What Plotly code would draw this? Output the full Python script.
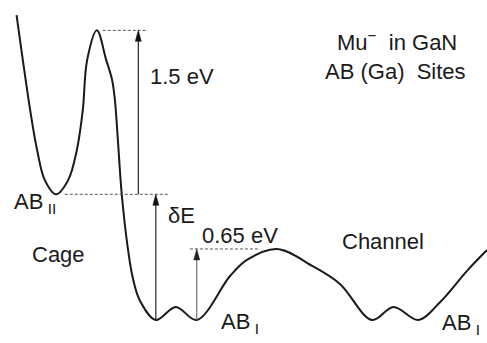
import plotly.graph_objects as go

# Configuration coordinate (arb. units) and muonium energy (eV, relative to AB_I)
coord = [0.34, 0.62, 0.76, 0.92, 1.15, 1.40, 1.58, 1.70, 1.79, 1.99, 2.18, 2.30,
         2.36, 2.42, 2.50, 2.63, 2.72, 2.87, 3.20, 3.61, 4.04, 4.72, 5.07, 5.69,
         6.43, 6.98, 7.64, 8.08, 8.59, 9.03, 9.59, 10.0]
energy = [2.79, 1.92, 1.56, 1.28, 1.15, 1.28, 1.56, 1.92, 2.38, 2.65, 2.38, 2.20,
          2.01, 1.65, 1.15, 0.64, 0.40, 0.18, 0.00, 0.12, 0.00, 0.40, 0.55, 0.65,
          0.49, 0.33, 0.00, 0.12, 0.00, 0.16, 0.45, 0.64]

# Energy levels (eV)
e_ab1 = 0.0
e_ab2 = 1.15           # deltaE: AB_II above AB_I
cage_barrier = 1.5     # AB_II -> over the cage wall
channel_barrier = 0.65 # AB_I -> AB_I along the channel
e_peak = e_ab2 + cage_barrier

# Positions of the minima on the configuration axis
x_ab2 = 1.15
x_ab1_a = 3.20
x_ab1_b = 4.04

W, H = 487, 343
X_RANGE = [0.0, 10.0]
Y_RANGE = [-0.2104, 2.9277]
PX_X = W / (X_RANGE[1] - X_RANGE[0])
PX_Y = H / (Y_RANGE[1] - Y_RANGE[0])

FONT = "Liberation Sans, Arial, Helvetica, sans-serif"
INK = "#1a1a1a"

fig = go.Figure()

# Potential-energy curve
fig.add_trace(go.Scatter(x=coord, y=energy, mode="lines",
                         line=dict(color=INK, width=2, shape="spline", smoothing=1.0),
                         hoverinfo="skip"))


def level(x0, x1, e):
    fig.add_trace(go.Scatter(x=[x0, x1], y=[e, e], mode="lines",
                             line=dict(color="#555555", width=1, dash="3px,2px"),
                             hoverinfo="skip"))


def arrow(x, e0, e1, shaft="#111111", head="#111111"):
    hl = 11 / PX_Y
    hw = 3 / PX_X
    fig.add_trace(go.Scatter(x=[x, x], y=[e0, e1 - hl * 0.6], mode="lines",
                             line=dict(color=shaft, width=1.1), hoverinfo="skip"))
    fig.add_trace(go.Scatter(x=[x - hw, x, x + hw, x - hw],
                             y=[e1 - hl, e1, e1 - hl, e1 - hl],
                             mode="lines", fill="toself", fillcolor=head,
                             line=dict(color=head, width=0.5), hoverinfo="skip"))


# Reference levels
level(2.11, 3.04, e_peak)
level(1.33, 3.45, e_ab2)
level(3.90, 5.34, e_ab1 + channel_barrier)

# Energy differences
arrow(2.84, e_ab2, e_peak)
arrow(x_ab1_a, e_ab1, e_ab2)
arrow(x_ab1_b, e_ab1, e_ab1 + channel_barrier, shaft="#666666", head="#222222")


def label(x, y, text, xanchor="center", yanchor="middle"):
    fig.add_annotation(x=x, y=y, text=text, showarrow=False, xanchor=xanchor,
                       yanchor=yanchor, font=dict(family=FONT, size=22, color=INK))


label(3.04, 2.23, f"{cage_barrier:.1f} eV", xanchor="left")
label(3.73, 0.96, "δE")
label(4.93, e_ab1 + channel_barrier + 0.12, f"{channel_barrier:.2f} eV")
label(8.15, 2.55, "Mu<sup>−</sup>  in GaN")
label(8.12, 2.27, "AB (Ga)  Sites")
label(1.20, 0.595, "Cage")
label(7.87, 0.72, "Channel")
label(0.25, 1.075, "AB<sub> II</sub>", xanchor="left")
label(4.50, -0.027, "AB<sub> I</sub>", xanchor="left")
label(9.03, -0.04, "AB<sub> I</sub>", xanchor="left")

fig.update_layout(
    width=W, height=H, margin=dict(l=0, r=0, t=0, b=0),
    paper_bgcolor="white", plot_bgcolor="white", showlegend=False,
    xaxis=dict(range=X_RANGE, visible=False, fixedrange=True),
    yaxis=dict(range=Y_RANGE, visible=False, fixedrange=True),
)

fig.write_html("out.html")
